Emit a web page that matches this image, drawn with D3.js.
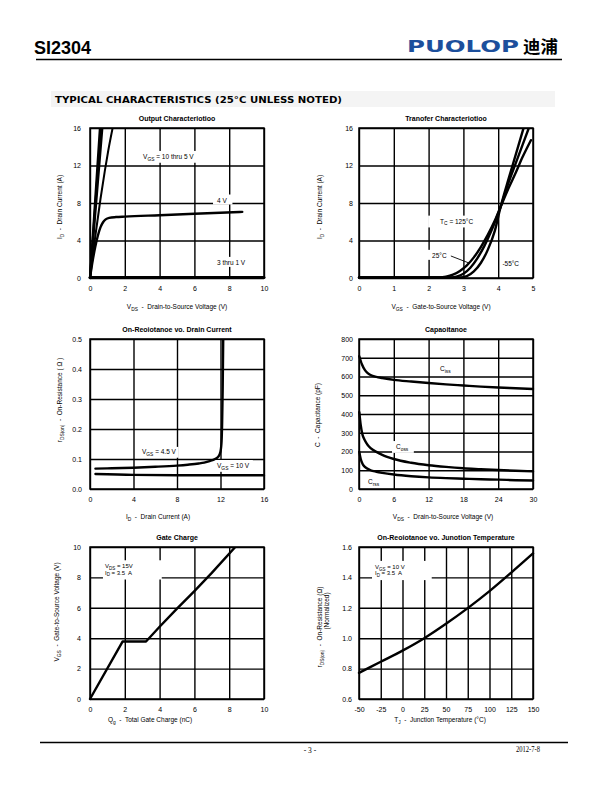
<!DOCTYPE html>
<html><head><meta charset="utf-8">
<script src="https://cdn.jsdelivr.net/npm/d3@7"></script>
<style>
body{margin:0;background:#fff}
svg{display:block}
text{font-family:"Liberation Sans",Arial,sans-serif;white-space:pre}
</style>
</head><body>
<svg id="c" width="612" height="792"></svg>
<script>
// ---------------- DATA ----------------
// Output Characteristics
const outXTicks=[0,2,4,6,8,10];
const outYTicks=[0,4,8,12,16];
const outVgs10=[[0,0],[0.57,16]];
const outVgs8=[[0,0],[0.63,16]];
const outVgs6=[[0,0],[0.71,16]];
const outVgs5=[[0,0],[0.3,4.4],[0.6,8.4],[0.85,11.4],[1.05,13.6],[1.3,16]];
const outVgs4=[[0,0],[0.15,1.8],[0.3,3.3],[0.45,4.5],[0.6,5.4],[0.75,5.95],[0.9,6.25],[1.1,6.42],[1.5,6.5],[2,6.55],[4,6.7],[6,6.85],[8.75,7.05]];
const outVgs3to1=[[0,0.05],[10,0.05]];
// Transfer Characteristics
const trXTicks=[0,1,2,3,4,5];
const trYTicks=[0,4,8,12,16];
const tr125=[[0,0.05],[2.2,0.05],[2.5,0.15],[2.7,0.35],[2.9,0.75],[3.1,1.35],[3.3,2.2],[3.5,3.3],[3.7,4.6],[3.9,6.1],[4.07,7.6],[4.3,9.6],[4.5,11.2],[4.7,12.9],[4.94,14.7]];
const tr25=[[0,0.05],[2.6,0.05],[2.8,0.15],[3.0,0.45],[3.2,1.1],[3.4,2.1],[3.6,3.4],[3.8,5.0],[4.0,6.9],[4.07,7.6],[4.3,10.2],[4.5,12.2],[4.7,14.2],[4.88,16]];
const trM55=[[0,0.05],[2.9,0.05],[3.1,0.2],[3.3,0.7],[3.5,1.6],[3.7,3.0],[3.9,5.0],[4.07,7.6],[4.3,10.6],[4.5,13.1],[4.73,16]];
// On-Resistance vs Drain Current
const rdXTicks=[0,4,8,12,16];
const rdYTicks=[0,0.1,0.2,0.3,0.4,0.5];
const rdVgs45=[[0.5,0.068],[2,0.069],[4,0.071],[6,0.074],[8,0.078],[9,0.081],[10,0.085],[10.5,0.088],[11,0.093],[11.5,0.1],[11.8,0.108],[12.0,0.125],[12.1,0.16],[12.15,0.22],[12.2,0.33],[12.25,0.5]];
const rdVgs10=[[0.5,0.05],[4,0.047],[8,0.046],[12,0.046],[16,0.046]];
// Capacitance
const capXTicks=[0,6,12,18,24,30];
const capYTicks=[0,100,200,300,400,500,600,700,800];
const capCiss=[[0.05,708],[0.5,665],[1,635],[1.5,618],[2,608],[3,598],[4,592],[6,582],[9,573],[12,565],[15,558],[18,552],[21,546],[24,541],[27,537],[30,533]];
const capCoss=[[0.05,410],[0.3,340],[0.6,290],[1,260],[1.5,235],[2,218],[3,198],[4,182],[6,160],[9,140],[12,127],[15,118],[18,111],[21,106],[24,101],[27,97],[30,94]];
const capCrss=[[0.05,198],[0.3,160],[0.6,135],[1,118],[1.5,108],[2,100],[3,92],[4,86],[6,77],[9,68],[12,62],[15,58],[18,55],[21,52],[24,50],[27,47],[30,45]];
// Gate Charge
const gcXTicks=[0,2,4,6,8,10];
const gcYTicks=[0,2,4,6,8,10];
const gcVgs=[[0,0],[1.87,3.78],[3.22,3.78],[4,4.75],[5,5.95],[6,7.1],[7,8.3],[8.35,10]];
// On-Resistance vs Junction Temperature
const tjXTicks=[-50,-25,0,25,50,75,100,125,150];
const tjYTicks=[0.6,0.8,1.0,1.2,1.4,1.6];
const tjRds=[[-50,0.772],[-25,0.845],[0,0.918],[25,1.0],[50,1.095],[75,1.198],[100,1.31],[125,1.432],[150,1.558]];

// ---------------- DRAW ----------------
const svg=d3.select('#c');

function rich(t,parts,fs){
  let sub=false;
  parts.forEach(p=>{
    if(typeof p==='string'){const ts=t.append('tspan').text(p); if(sub){ts.attr('dy',fs*0.28);sub=false;}}
    else{t.append('tspan').text(p.s).attr('font-size',fs*0.75).attr('dy',fs*0.28*-1*-1);sub=true;}
  });
  // fix: subscript shifts down (+), following text back up (-)
  let s=false;
  t.selectAll('tspan').each(function(){
    const el=d3.select(this);
    if(el.attr('font-size')){el.attr('dy',fs*0.28);s=true;}
    else if(s){el.attr('dy',-fs*0.28);s=false;}
  });
  return t;
}

// header
svg.append('text').attr('x',34).attr('y',54).attr('font-size',18).attr('font-weight','bold').text('SI2304');
svg.append('text').attr('x',407).attr('y',52).attr('font-size',16.5).attr('font-weight','bold')
  .style('font-family','"DejaVu Sans",sans-serif').attr('fill','#1c4f9c')
  .attr('textLength',112).attr('lengthAdjust','spacingAndGlyphs').text('PUOLOP');
svg.append('text').attr('x',523).attr('y',53).attr('font-size',17).attr('font-weight','bold')
  .style('font-family','"Noto Sans CJK SC",sans-serif').attr('textLength',35).attr('lengthAdjust','spacingAndGlyphs').text('迪浦');
svg.append('line').attr('x1',36).attr('x2',562).attr('y1',59.5).attr('y2',59.5).attr('stroke','#000').attr('stroke-width',1.3);
svg.append('rect').attr('x',51).attr('y',91).attr('width',504).attr('height',16).attr('fill','#f4f4f4');
svg.append('text').attr('x',55).attr('y',103).attr('font-size',9.5).attr('font-weight','bold')
  .style('font-family','"DejaVu Sans",sans-serif').attr('textLength',287).attr('lengthAdjust','spacingAndGlyphs')
  .text('TYPICAL CHARACTERISTICS (25°C UNLESS NOTED)');
// footer
svg.append('line').attr('x1',40).attr('x2',568).attr('y1',742.5).attr('y2',742.5).attr('stroke','#000').attr('stroke-width',1.3);
svg.append('text').attr('x',310).attr('y',753).attr('text-anchor','middle').attr('font-size',7.5).style('font-family','"Liberation Serif",serif').text('- 3 -');
svg.append('text').attr('x',516).attr('y',752).attr('font-size',7.5).style('font-family','"Liberation Serif",serif').attr('textLength',24).attr('lengthAdjust','spacingAndGlyphs').text('2012-7-8');

let clipId=0;
function panel(p){
  const [L,T,W,H]=p.box;
  const x=d3.scaleLinear().domain(p.xd).range([L,L+W]);
  const y=d3.scaleLinear().domain(p.yd).range([T+H,T]);
  const g=svg.append('g');
  const fmtX=p.xf||(d=>d), fmtY=p.yf||(d=>d);
  // grid + tick labels via axes
  const ax=g.append('g').attr('transform',`translate(0,${T+H})`)
    .call(d3.axisBottom(x).tickValues(p.xt).tickSize(-H).tickPadding(8).tickFormat(fmtX));
  const ay=g.append('g').attr('transform',`translate(${L},0)`)
    .call(d3.axisLeft(y).tickValues(p.yt).tickSize(-W).tickPadding(p.ydx).tickFormat(fmtY));
  [ax,ay].forEach(a=>{
    a.select('.domain').remove();
    a.attr('font-size',7).attr('font-family','"Liberation Sans",Arial,sans-serif');
    a.selectAll('line').attr('stroke','#000').attr('stroke-width',1.4);
  });
  g.append('rect').attr('x',L).attr('y',T).attr('width',W).attr('height',H)
    .attr('fill','none').attr('stroke','#000').attr('stroke-width',1.5);
  // title
  g.append('text').attr('x',L+W/2).attr('y',T-7).attr('text-anchor','middle')
    .attr('font-size',7).attr('font-weight','bold').text(p.title);
  // axis titles
  rich(g.append('text').attr('x',p.xtc).attr('y',T+H+p.xtb).attr('text-anchor','middle').attr('font-size',6.5),p.xtitle,6.5);
  p.ytitles.forEach(yt=>{
    rich(g.append('text').attr('transform',`translate(${yt.x},${yt.c}) rotate(-90)`).attr('text-anchor','middle').attr('font-size',6.5),yt.parts,6.5);
  });
  const boxLayer=g.append('g'), curveLayer=g.append('g'), textLayer=g.append('g');
  // labels
  (p.labels||[]).forEach(lb=>{
    const lines=lb.lines;
    const texts=lines.map((ln,i)=>rich(textLayer.append('text').attr('x',x(lb.x)).attr('y',y(ln.y)).attr('font-size',lb.fs||6.5),ln.parts,lb.fs||6.5));
    let x0=Infinity,y0=Infinity,x1=-Infinity,y1=-Infinity;
    texts.forEach(t=>{const b=t.node().getBBox();x0=Math.min(x0,b.x);y0=Math.min(y0,b.y);x1=Math.max(x1,b.x+b.width);y1=Math.max(y1,b.y+b.height);});
    const pd=lb.pad||[2,2,1,1];
    boxLayer.append('rect').attr('x',x0-pd[0]).attr('y',y0-pd[2]).attr('width',x1-x0+pd[0]+pd[1]).attr('height',y1-y0+pd[2]+pd[3]).attr('fill','#fff');
    if(lb.leader){
      textLayer.append('line').attr('x1',x(lb.leader[0][0])).attr('y1',y(lb.leader[0][1]))
        .attr('x2',x(lb.leader[1][0])).attr('y2',y(lb.leader[1][1])).attr('stroke','#000').attr('stroke-width',0.9);
    }
  });
  // series
  const cid='clip'+(clipId++);
  g.append('clipPath').attr('id',cid).append('rect').attr('x',L-2).attr('y',T).attr('width',W+4).attr('height',H+3);
  const cg=curveLayer.attr('clip-path',`url(#${cid})`);
  p.series.forEach(s=>{
    const line=d3.line().x(d=>x(d[0])).y(d=>y(d[1])).curve(s.curve||d3.curveMonotoneX);
    cg.append('path').attr('d',line(s.d)).attr('fill','none').attr('stroke','#000')
      .attr('stroke-width',s.w||2.4).attr('stroke-linejoin','round').attr('stroke-linecap','round');
  });
}

const sub=s=>({s});
const f1=d3.format('.1f');

panel({box:[90,128,174,150],xd:[0,10],yd:[0,16],xt:outXTicks,yt:outYTicks,ydx:9,
  title:'Output Characteriotioo',
  xtitle:['V',sub('DS'),'  -  Drain-to-Source Voltage (V)'],xtc:177,xtb:31,
  ytitles:[{x:62,c:207,parts:['I',sub('D'),'  -  Drain Current (A)']}],
  series:[{d:outVgs10,curve:d3.curveLinear,w:2.2},{d:outVgs8,curve:d3.curveLinear,w:2.2},{d:outVgs6,curve:d3.curveLinear,w:2.2},
          {d:outVgs5,w:2},{d:outVgs4},{d:outVgs3to1,curve:d3.curveLinear,w:3}],
  labels:[
    {x:3.05,lines:[{y:12.7,parts:['V',sub('GS'),' = 10 thru 5 V']}],pad:[3,3,2,1]},
    {x:7.3,lines:[{y:8.05,parts:['4 V']}],pad:[4,5,2,1]},
    {x:7.3,lines:[{y:1.4,parts:['3 thru 1 V']}],pad:[3,3,2,1]}
  ]});

panel({box:[359,128,174,150],xd:[0,5],yd:[0,16],xt:trXTicks,yt:trYTicks,ydx:6,
  title:'Tranofer Characteriotioo',
  xtitle:['V',sub('GS'),'  -  Gate-to-Source Voltage (V)'],xtc:441,xtb:31,
  ytitles:[{x:322,c:207,parts:['I',sub('D'),'  -  Drain Current (A)']}],
  series:[{d:tr125},{d:tr25},{d:trM55}],
  labels:[
    {x:2.33,lines:[{y:5.8,parts:['T',sub('C'),' = 125°C']}],pad:[12,3,2,1]},
    {x:2.1,lines:[{y:2.15,parts:['25°C']}],pad:[6,2,2,1],leader:[[2.64,2.35],[3.16,1.6]]},
    {x:4.12,lines:[{y:1.3,parts:['-55°C']}],pad:[1,2,2,1]}
  ]});

panel({box:[90,339,174,150],xd:[0,16],yd:[0,0.5],xt:rdXTicks,yt:rdYTicks,ydx:8,yf:f1,
  title:'On-Reoiotanoe vo. Drain Current',
  xtitle:['I',sub('D'),'  -  Drain Current (A)'],xtc:158,xtb:30,
  ytitles:[{x:62,c:400,parts:['r',sub('DS(on)'),'  -  On-Resistance ( Ω )']}],
  series:[{d:rdVgs45},{d:rdVgs10}],
  labels:[
    {x:4.78,lines:[{y:0.117,parts:['V',sub('GS'),' = 4.5 V']}],pad:[2,2,1,1]},
    {x:11.68,lines:[{y:0.07,parts:['V',sub('GS'),' = 10 V']}],pad:[3,3,2,1]}
  ]});

panel({box:[359,339,174,150],xd:[0,30],yd:[0,800],xt:capXTicks,yt:capYTicks,ydx:6,
  title:'Capaoitanoe',
  xtitle:['V',sub('DS'),'  -  Drain-to-Source Voltage (V)'],xtc:443,xtb:30,
  ytitles:[{x:320,c:415,parts:['C  -  Capacitance (pF)']}],
  series:[{d:capCiss},{d:capCoss},{d:capCrss}],
  labels:[
    {x:13.97,lines:[{y:629,parts:['C',sub('iss')]}],pad:[2,2,1,1]},
    {x:6.38,lines:[{y:213,parts:['C',sub('oss')]}],pad:[4,5,2,1]},
    {x:1.55,lines:[{y:27,parts:['C',sub('rss')]}],pad:[2,2,1,1]}
  ]});

panel({box:[90,547,174,152],xd:[0,10],yd:[0,10],xt:gcXTicks,yt:gcYTicks,ydx:9,
  title:'Gate Charge',
  xtitle:['Q',sub('g'),'  -  Total Gate Charge (nC)'],xtc:150,xtb:23,
  ytitles:[{x:59,c:612,parts:['V',sub('GS'),'  -  Gate-to-Source Voltage (V)']}],
  series:[{d:gcVgs,curve:d3.curveLinear}],
  labels:[
    {x:0.86,lines:[{y:8.6,parts:['V',sub('DS'),' = 15V']},{y:8.17,parts:['I',sub('D'),' = 3.5  A']}],fs:6,pad:[2,29,3,2]}
  ]});

panel({box:[359,547,174,152],xd:[-50,150],yd:[0.6,1.6],xt:tjXTicks,yt:tjYTicks,ydx:7,yf:f1,
  title:'On-Reoiotanoe vo. Junotion Temperature',
  xtitle:['T',sub('J'),'  -  Junction Temperature (°C)'],xtc:440,xtb:23,
  ytitles:[{x:322,c:627,parts:['r',sub('DS(on)'),'  -  On-Resistance (Ω)']},{x:329,c:611,parts:['(Normalized)']}],
  series:[{d:tjRds}],
  labels:[
    {x:-31.6,lines:[{y:1.456,parts:['V',sub('GS'),' = 10 V']},{y:1.413,parts:['I',sub('D'),' = 3.5  A']}],fs:6,pad:[3,27,3,2]}
  ]});
</script>
</body></html>
